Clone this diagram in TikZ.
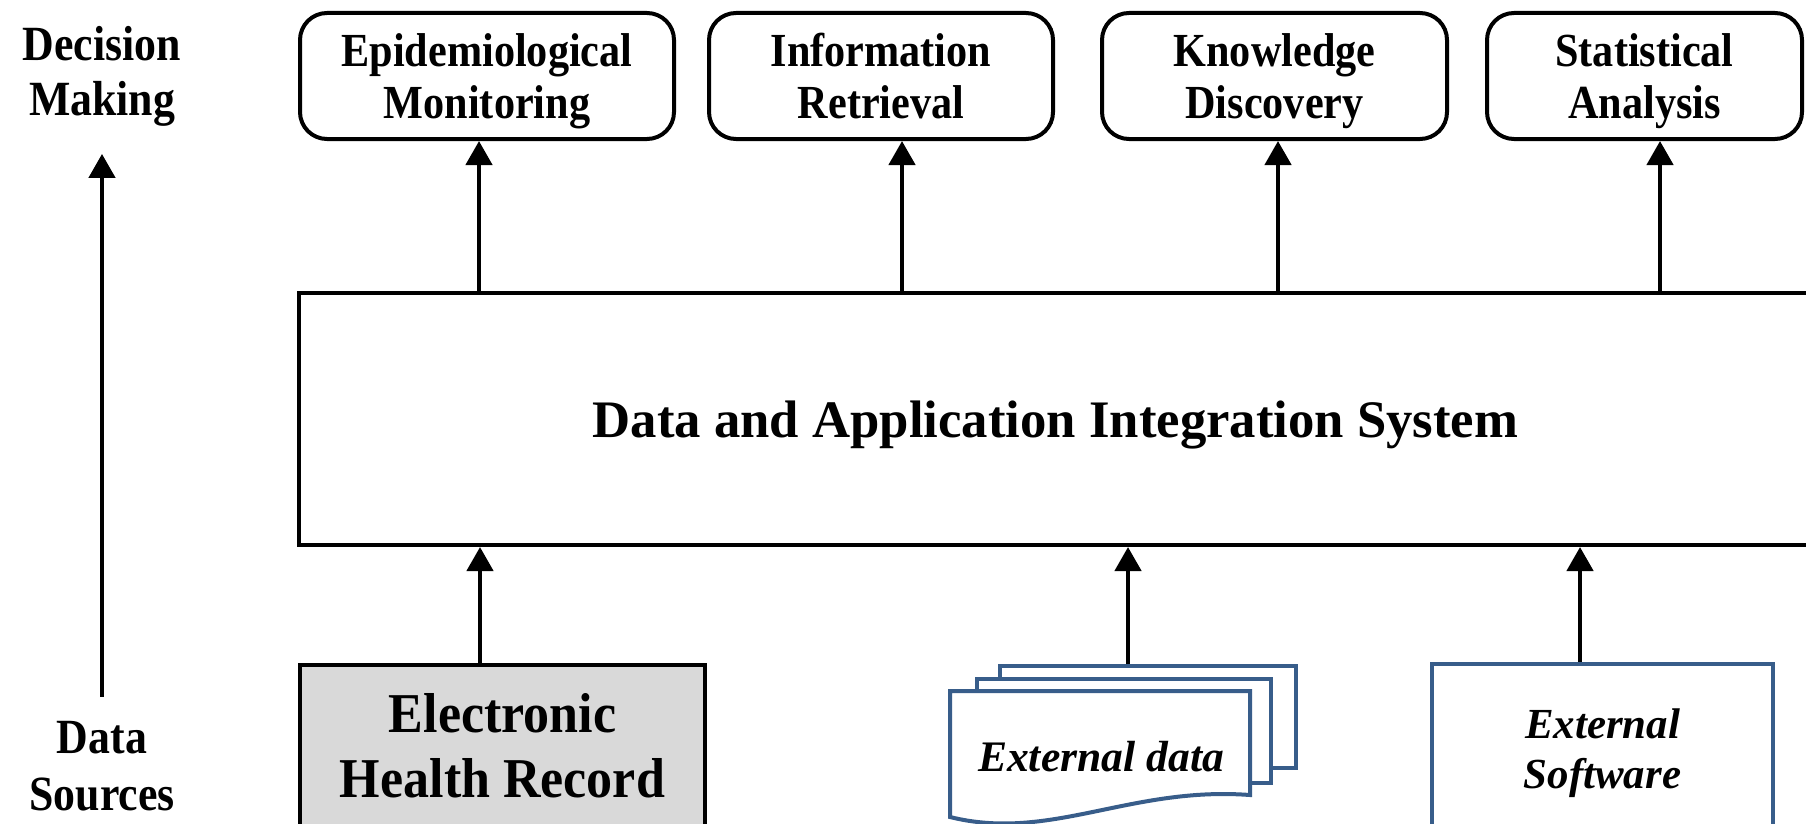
\documentclass[tikz,border=0pt]{standalone}
\usepackage{fontspec}
\setmainfont{Liberation Serif}
\newfontfamily\narrowfont[FakeStretch=0.89]{Liberation Serif}
\newfontfamily\ehrfont[FakeStretch=0.925]{Liberation Serif}
\usetikzlibrary{arrows.meta}
\definecolor{docblue}{RGB}{56,93,138}
\definecolor{ehrgray}{RGB}{217,217,217}

\begin{document}
\begin{tikzpicture}[x=1mm,y=-1mm,line width=0.4mm,
  app/.style={draw,rounded corners=2.7mm,align=center,minimum height=12.6mm,text depth=0pt,
    font=\narrowfont\fontsize{13.5}{14.8}\selectfont\bfseries},
  side/.style={align=center,inner sep=0pt,font=\narrowfont\fontsize{14}{15.6}\selectfont\bfseries},
  sheet/.style={draw=docblue,fill=white,inner sep=0pt},
  up/.style={-{Triangle[width=2.6mm,length=2.4mm]},line width=0.45mm}]

\clip (0,0) rectangle (180.6,82.3);

\node[side] (dm) at (10.2,7.6) {Decision\\Making};
\node[side,font=\narrowfont\fontsize{14}{16.4}\selectfont\bfseries] (ds) at (10.2,76.6) {Data\\Sources};
\draw[up,shorten <=2.2mm,shorten >=2.6mm] (ds.north) -- (dm.south);

\node[app,minimum width=37.4mm] (em) at (48.7,7.6) {Epidemiological\\Monitoring};
\node[app,minimum width=34.4mm] (ir) at (88.1,7.6) {Information\\Retrieval};
\node[app,minimum width=34.5mm] (kd) at (127.45,7.6) {Knowledge\\Discovery};
\node[app,minimum width=31.5mm] (sa) at (164.45,7.6) {Statistical\\Analysis};

\node[draw,minimum width=151.3mm,minimum height=25.2mm,text depth=0pt,
  font=\fontsize{15}{18}\selectfont\bfseries] (sys) at (105.55,41.9)
  {Data and Application Integration System};

\foreach \nm/\x in {em/47.9,ir/90.2,kd/127.8,sa/166.0}{
\draw[up] (sys.north -| \x,0) -- (\nm.south -| \x,0);
}

\node[draw,fill=ehrgray,minimum width=40.5mm,minimum height=16.2mm,align=center,
  font=\ehrfont\fontsize{16}{18.5}\selectfont\bfseries] (ehr) at (50.25,74.6)
  {Electronic\\Health Record};

\node[sheet,minimum width=29.6mm,minimum height=10.2mm] (xd3) at (114.8,71.7) {};
\node[sheet,minimum width=29.4mm,minimum height=10.4mm] (xd2) at (112.4,73.1) {};
\filldraw[docblue,fill=white] (95.0,69.1) -- (125.0,69.1) -- (125.0,79.5)
  .. controls (113,78.6) and (105,84.2) .. (95.0,81.7) -- cycle;
\node[font=\fontsize{12.4}{14}\selectfont\bfseries\itshape] (xd) at (110.1,75.7) {External data};

\node[draw=docblue,minimum width=34.1mm,minimum height=17.8mm,align=center,
  font=\fontsize{12.2}{14.4}\selectfont\bfseries\itshape] (sw) at (160.25,75.3)
  {External\\Software};

\foreach \nm/\x in {ehr/48.0,xd3/112.8,sw/158.0}{
\draw[up] (\nm.north -| \x,0) -- (sys.south -| \x,0);
}
\end{tikzpicture}
\end{document}
